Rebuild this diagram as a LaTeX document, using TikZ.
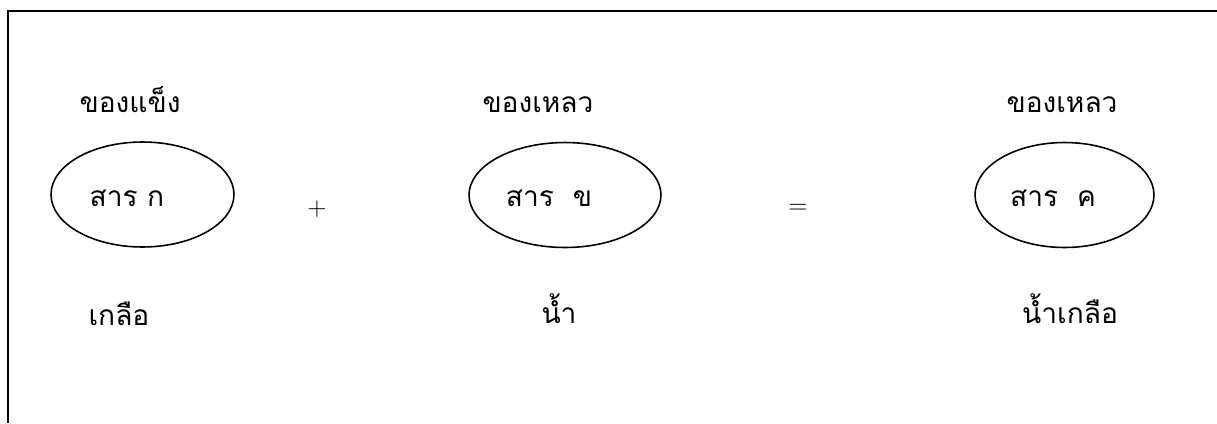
\documentclass[tikz,border=0pt]{standalone}
\usepackage{fontspec}
\newfontfamily\thaifont[Script=Thai]{Loma}
\usetikzlibrary{shapes.geometric}
\tikzset{
  % substance ellipse
  substance/.style={ellipse, draw, line width=0.9pt, minimum width=#1, minimum height=2.1cm, inner sep=0pt},
  substance/.default={3.66cm},
  % thai text
  thtext/.style={font=\thaifont\fontsize{16}{19}\selectfont, anchor=base, inner sep=0pt},
  % plus / equals sign
  opsign/.style={font=\fontsize{14}{16}\selectfont, inner sep=0pt},
}
\begin{document}
\begin{tikzpicture}[x=0.02cm, y=-0.02cm]
  \useasboundingbox (0,0) rectangle (1217,423);

  % frame
  \coordinate (fr1) at (1217,11);
  \coordinate (fr2) at (8,11);
  \coordinate (fr3) at (8,423);
  \draw[line width=1.1pt] (fr1) -- (fr2) -- (fr3);

  % ── solid ──
  \node[thtext] (stA) at (130,112) {ของแข็ง};
  \node[substance=3.66cm] (sA) at (142.5,194.5) {};
  \node[thtext] (nA) at (127,206) {สาร ก};
  \node[thtext] (bA) at (119,325) {เกลือ};

  \node[opsign] (plus) at (317,209) {$+$};

  % ── liquid ──
  \node[thtext] (stB) at (538,112) {ของเหลว};
  \node[substance=3.84cm] (sB) at (565,195) {};
  \node[thtext] (nB) at (549,206) {สาร\ \ ข};
  \node[thtext] (bB) at (559,323) {น้ำ};

  \node[opsign] (eq) at (798,209) {$=$};

  % ── solution ──
  \node[thtext] (stC) at (1062,112) {ของเหลว};
  \node[substance=3.58cm] (sC) at (1064.5,195) {};
  \node[thtext] (nC) at (1053,206) {สาร\ \ ค};
  \node[thtext] (bC) at (1070,323) {น้ำเกลือ};

\end{tikzpicture}
\end{document}
